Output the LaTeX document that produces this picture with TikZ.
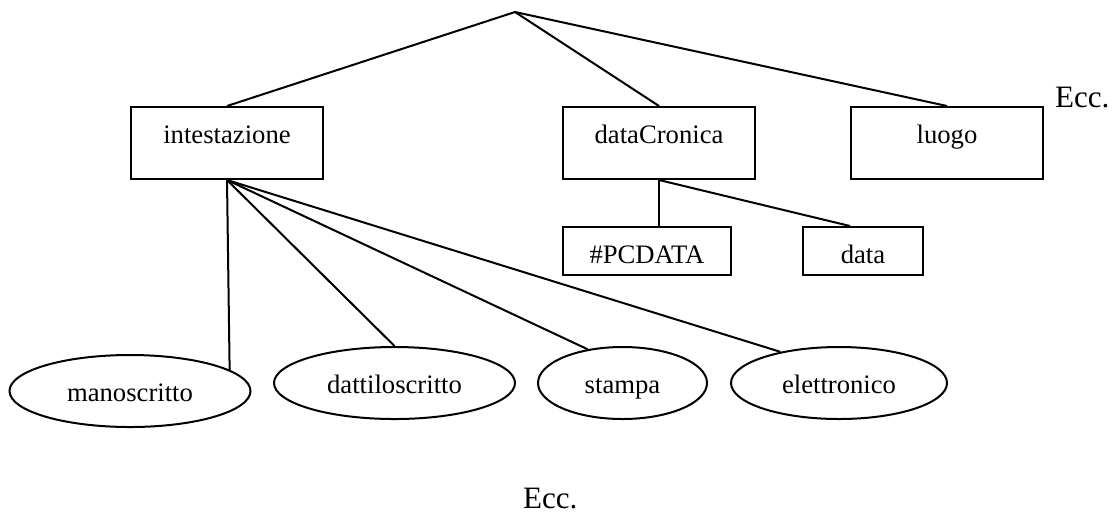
\documentclass[tikz,border=0pt]{standalone}
\usepackage{fontspec}
\setmainfont{Liberation Serif}
\usetikzlibrary{shapes.geometric}

\begin{document}
\begin{tikzpicture}[x={(0.45pt,0pt)}, y={(0pt,-0.45pt)}, font=\fontsize{12}{14}\selectfont, line width=0.9pt,
    elem/.style={draw, rectangle, minimum width=86.4pt, minimum height=32.4pt, text height=8pt, text depth=7.5pt, inner sep=0pt},
    leaf/.style={draw, rectangle, minimum height=21.6pt, text height=10.9pt, text depth=0pt, inner sep=0pt},
    kind/.style={draw, ellipse, minimum height=32.4pt, text height=9.1pt, text depth=0pt, inner sep=0pt},
    ecc/.style={font=\fontsize{14}{16}\selectfont, anchor=base west, inner sep=0pt}]
    \useasboundingbox (0,0) rectangle (1115,513);
    % ---------------- root and first level
    \coordinate (root) at (515,12);
    \node[elem] (intestazione) at (227,143) {intestazione};
    \node[elem] (dataCronica)  at (659,143) {dataCronica};
    \node[elem] (luogo)        at (947,143) {luogo};
    \node[ecc] (eccTop) at (1054,107) {Ecc.};
    \foreach \n in {intestazione, dataCronica, luogo} \draw (root) -- (\n.north);
    % ---------------- children of dataCronica
    \node[leaf, minimum width=75.6pt] (pcdata) at (647,251) {\#PCDATA};
    \node[leaf, minimum width=54pt]   (data)   at (863,251) {data};
    \draw (dataCronica.south) -- (dataCronica.south |- pcdata.north);
    \draw (dataCronica.south) -- ([xshift=-5.85pt]data.north);
    % ---------------- children of intestazione
    \node[kind, minimum width=108.45pt] (manoscritto)    at (130,391)   {manoscritto};
    \node[kind, minimum width=108.45pt] (dattiloscritto) at (394.5,383) {dattiloscritto};
    \node[kind, minimum width=76.05pt]  (stampa)         at (622.5,383) {stampa};
    \node[kind, minimum width=97.2pt]   (elettronico)    at (839,383)   {elettronico};
    \foreach \t in {manoscritto.12, dattiloscritto.north, stampa.136, elettronico.152} \draw (intestazione.south) -- (\t);
    \node[ecc] (eccBottom) at (522,508) {Ecc.};
\end{tikzpicture}
\end{document}
